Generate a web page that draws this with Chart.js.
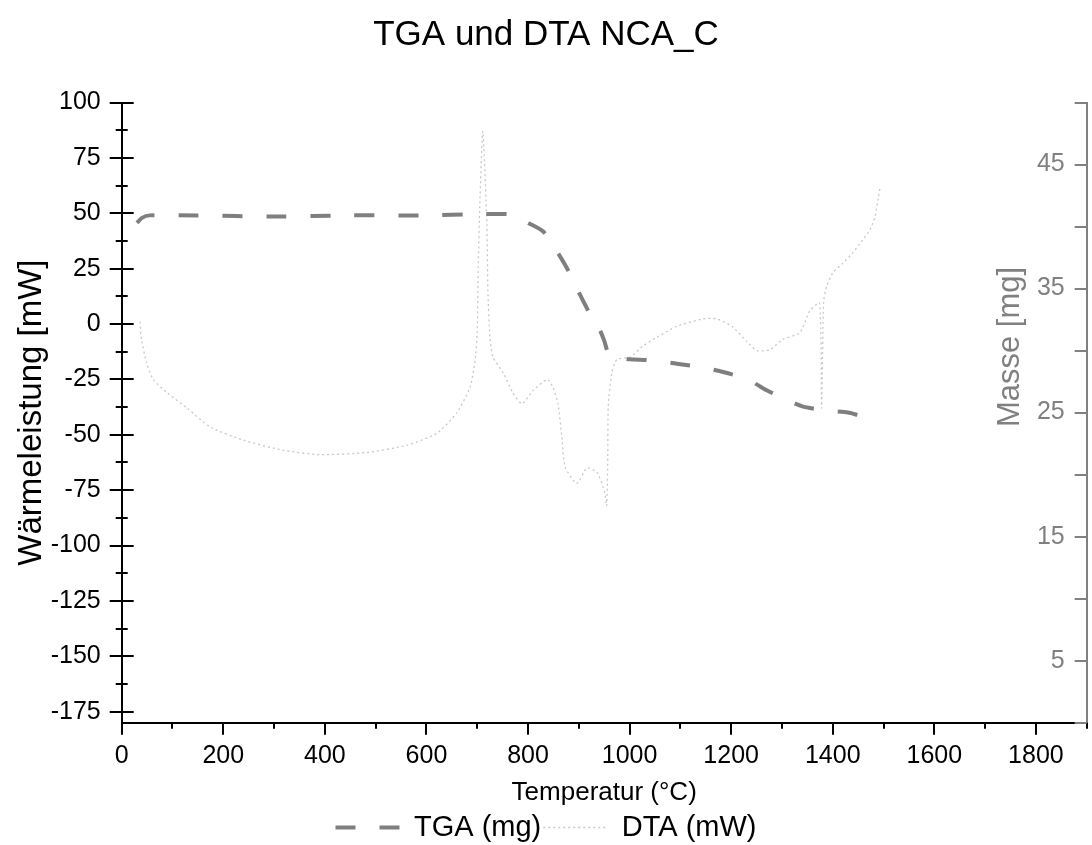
<!DOCTYPE html>
<html>
<head>
<meta charset="utf-8">
<title>TGA und DTA NCA_C</title>
<script src="https://cdn.jsdelivr.net/npm/chart.js@4.4.1/dist/chart.umd.min.js"></script>
<style>
    html, body { margin: 0; padding: 0; background: #fff; }
</style>
</head>
<body>
<canvas id="tgaChart" width="1092" height="845"></canvas>
<script>
// ==========================================
// Daten
// ==========================================
// TGA: Temperatur (°C) -> Masse (mg), rechte Achse
const tgaTemp = [30, 40, 55, 150, 300, 450, 600, 700, 760, 780, 800, 830, 860, 880, 900, 920, 940, 950,
    960, 980, 1000, 1050, 1100, 1150, 1200, 1240, 1270, 1300, 1340, 1380, 1430, 1460, 1495];
const tgaMass = [40.3, 40.7, 40.9, 40.9, 40.8, 40.9, 40.9, 41.0, 41.0, 40.8, 40.3, 39.6, 37.8, 36.4, 34.7, 33.1, 31.8, 30.8,
    29.6, 29.4, 29.3, 29.2, 28.9, 28.6, 28.1, 27.5, 26.8, 26.2, 25.5, 25.2, 25.0, 24.7, 24.6];

// DTA: Temperatur (°C) -> Wärmeleistung (mW), linke Achse
const dtaTemp = [36, 39, 49, 62, 89, 129, 174, 239, 318, 390, 483, 562, 621, 660, 686, 696, 700, 702, 705, 711,
    719, 721, 725, 731, 751, 770, 788, 810, 838, 849, 859, 867, 873, 896, 916, 936, 951, 955, 957, 958,
    965, 975, 1001, 1026, 1054, 1093, 1144, 1172, 1203, 1231, 1251, 1276, 1301, 1335, 1355, 1374, 1378,
    1382, 1388, 1400, 1420, 1439, 1459, 1473, 1483, 1489, 1493];
const dtaPower = [1, -7, -17.6, -25, -31, -38, -46.5, -52.4, -57, -59, -58, -54.7, -49.3, -40, -28.5, -16, -4, 26, 53, 87,
    45, 15, -6, -15, -22, -31, -36, -30, -25, -28.5, -36, -52, -64.5, -72, -65, -67, -76, -82, -60, -37,
    -22, -16, -15, -10, -6, -1, 2.3, 2.3, -1.3, -8, -12, -11.7, -7, -4, 6, 9.5, -38,
    10, 17, 23, 27.5, 32, 38, 42.4, 48.3, 56, 61.4];

// Achsen
const xRange = [0, 1900];
const yLeftRange = [-180, 100];
const yRightRange = [0, 50];

// ==========================================
// Stil
// ==========================================
const FONT = "'Liberation Sans', Arial, sans-serif";
const COLORS = {
    axis: '#000000',
    axis2: '#808080',
    tga: '#7f7f7f',
    dta: '#c8c8c8'
};
const PLOT_BOTTOM = 722.7;
const PAD_BOTTOM = -7; // Legende etwas tiefer setzen

const toPoints = (xs, ys) => xs.map((x, i) => ({ x, y: ys[i] }));

// Tick-Striche (Haupt/Neben) und Titel der rechten Achse
const axisDecor = {
    id: 'axisDecor',
    afterDraw(chart) {
        const { ctx, chartArea: a, scales: { x, y, y2 } } = chart;
        ctx.save();
        ctx.lineWidth = 2;

        ctx.strokeStyle = COLORS.axis;
        ctx.beginPath();
        y.ticks.forEach(t => {
            const py = Math.round(y.getPixelForValue(t.value));
            const len = t.value % 25 === 0 ? 12 : 6;
            ctx.moveTo(a.left - len, py);
            ctx.lineTo(a.left + len, py);
        });
        x.ticks.forEach(t => {
            const px = Math.round(x.getPixelForValue(t.value));
            const len = t.value % 200 === 0 ? 12 : 6;
            ctx.moveTo(px, a.bottom);
            ctx.lineTo(px, a.bottom + len);
        });
        ctx.stroke();

        ctx.strokeStyle = COLORS.axis2;
        ctx.beginPath();
        y2.ticks.forEach(t => {
            const py = Math.round(y2.getPixelForValue(t.value));
            ctx.moveTo(a.right - 12, py);
            ctx.lineTo(a.right, py);
        });
        ctx.stroke();

        ctx.translate(a.right - 76, 347);
        ctx.rotate(-Math.PI / 2);
        ctx.fillStyle = COLORS.axis2;
        ctx.font = `31px ${FONT}`;
        ctx.textAlign = 'center';
        ctx.textBaseline = 'middle';
        ctx.fillText('Masse [mg]', 0, 0);
        ctx.restore();
    }
};

const ctx = document.getElementById('tgaChart').getContext('2d');
const chart = new Chart(ctx, {
    type: 'line',
    data: {
        datasets: [
            {
                label: 'TGA (mg)',
                data: toPoints(tgaTemp, tgaMass),
                yAxisID: 'y2',
                borderColor: COLORS.tga,
                borderWidth: 4,
                borderDash: [20, 24],
                pointRadius: 0,
                tension: 0.2,
                fill: false
            },
            {
                label: 'DTA (mW)',
                data: toPoints(dtaTemp, dtaPower),
                yAxisID: 'y',
                borderColor: COLORS.dta,
                borderWidth: 1.3,
                borderDash: [2, 3],
                pointRadius: 0,
                tension: 0.2,
                fill: false
            }
        ]
    },
    options: {
        responsive: false,
        animation: false,
        events: [],
        layout: { padding: { top: 0, left: 0, right: 0, bottom: PAD_BOTTOM } },
        scales: {
            x: {
                type: 'linear',
                min: xRange[0], max: xRange[1],
                grid: { display: false, drawTicks: false },
                border: { display: true, color: COLORS.axis, width: 2 },
                ticks: {
                    stepSize: 100,
                    autoSkip: false,
                    maxRotation: 0,
                    padding: 4,
                    color: '#000',
                    font: { family: FONT, size: 25, lineHeight: '58px' },
                    callback: v => (v % 200 === 0 ? String(v) : '')
                },
                title: {
                    display: true,
                    text: 'Temperatur (°C)',
                    color: '#000',
                    font: { family: FONT, size: 26 },
                    padding: { top: 0, bottom: 3 }
                },
                // Plotfläche endet bei PLOT_BOTTOM, der Rest bis zur Legende gehört der x-Achse
                afterFit: s => { s.height = s.chart.height - PAD_BOTTOM - s.chart.legend.height - PLOT_BOTTOM; }
            },
            y: {
                type: 'linear',
                position: 'left',
                min: yLeftRange[0], max: yLeftRange[1],
                grid: { display: false, drawTicks: false },
                border: { display: true, color: COLORS.axis, width: 2 },
                ticks: {
                    stepSize: 12.5,
                    includeBounds: false,
                    autoSkip: false,
                    padding: 21,
                    color: '#000',
                    font: { family: FONT, size: 25 },
                    callback: v => (v % 25 === 0 ? String(v) : '')
                },
                title: {
                    display: true,
                    text: 'Wärmeleistung [mW]',
                    color: '#000',
                    font: { family: FONT, size: 33 },
                    padding: { top: 12, bottom: 0 }
                },
                afterFit: s => { s.width = 121.7; }
            },
            y2: {
                type: 'linear',
                position: 'right',
                min: yRightRange[0], max: yRightRange[1],
                grid: { display: false, drawTicks: false },
                border: { display: true, color: COLORS.axis2, width: 2 },
                ticks: {
                    stepSize: 5,
                    autoSkip: false,
                    mirror: true,
                    padding: -22,
                    color: COLORS.axis2,
                    font: { family: FONT, size: 25 },
                    callback: v => (v % 10 === 5 ? String(v) : '')
                },
                afterFit: s => { s.width = 5.3; }
            }
        },
        plugins: {
            title: {
                display: true,
                text: 'TGA und DTA NCA_C',
                color: '#000',
                font: { family: FONT, size: 35, weight: 'normal' },
                padding: { top: 14, bottom: 46.5 }
            },
            legend: {
                position: 'bottom',
                labels: {
                    usePointStyle: true,
                    pointStyleWidth: 64,
                    padding: 2,
                    color: '#000',
                    font: { family: FONT, size: 29 },
                    generateLabels(c) {
                        const items = Chart.defaults.plugins.legend.labels.generateLabels(c);
                        items.forEach(it => {
                            const ds = c.data.datasets[it.datasetIndex];
                            it.pointStyle = 'line';
                            it.lineDash = ds.borderDash;
                            it.lineWidth = ds.borderWidth;
                            it.strokeStyle = ds.borderColor;
                        });
                        return items;
                    }
                }
            },
            tooltip: { enabled: false }
        }
    },
    plugins: [axisDecor]
});
</script>
</body>
</html>
